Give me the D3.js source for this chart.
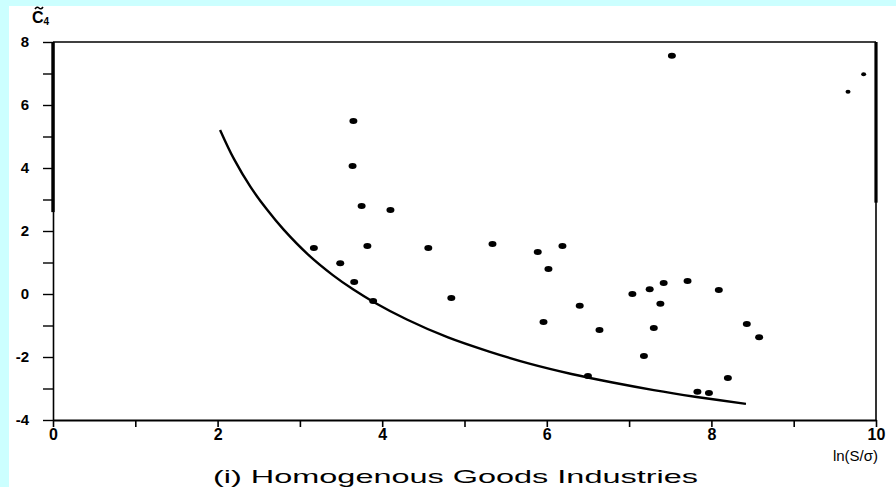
<!DOCTYPE html>
<html>
<head>
<meta charset="utf-8">
<script src="https://cdn.jsdelivr.net/npm/d3@7"></script>
<style>
  html, body { margin: 0; padding: 0; background: #ccffff; }
  svg { display: block; }
</style>
</head>
<body>
<svg id="chart" width="896" height="487"></svg>
<script>
// ---- data ----
const pointX = [3.65, 3.64, 3.75, 4.10, 3.17, 3.82, 4.56, 3.49, 3.66, 3.89, 4.84,
                5.34, 5.89, 6.19, 6.02, 6.40, 5.96, 6.64, 7.04, 7.25, 7.42, 7.38,
                7.30, 7.71, 8.09, 7.18, 8.43, 8.58, 6.50, 8.20, 7.83, 7.97, 7.52,
                9.85, 9.66];
const pointY = [5.49, 4.06, 2.79, 2.67, 1.46, 1.52, 1.46, 0.98, 0.38, -0.22, -0.13,
                1.59, 1.33, 1.52, 0.79, -0.37, -0.89, -1.14, 0.00, 0.15, 0.35, -0.31,
                -1.08, 0.41, 0.13, -1.97, -0.95, -1.37, -2.60, -2.67, -3.10, -3.14, 7.56,
                6.98, 6.42];
const curveX = [2.03, 2.20, 2.40, 2.60, 2.80, 3.10, 3.40, 3.65, 3.90, 4.30, 4.80,
                5.30, 5.80, 6.30, 6.80, 7.30, 7.80, 8.42];
const curveY = [5.21, 4.28, 3.40, 2.68, 2.05, 1.25, 0.60, 0.14, -0.26, -0.81, -1.38,
                -1.83, -2.22, -2.54, -2.81, -3.05, -3.26, -3.49];
const xTicks = [0, 1, 2, 3, 4, 5, 6, 7, 8, 9, 10];
const xTickLabels = ["0", "", "2", "", "4", "", "6", "", "8", "", "10"];
const yTicks = [-4, -3, -2, -1, 0, 1, 2, 3, 4, 5, 6, 7, 8];
const yTickLabels = ["-4", "", "-2", "", "0", "", "2", "", "4", "", "6", "", "8"];
const xAxisLabel = "ln(S/σ)";
const yAxisLabel = "C";
const yAxisSub = "4";
const caption = "(i) Homogenous Goods Industries";

// ---- drawing ----
const svg = d3.select("#chart");
svg.append("rect").attr("x", 9).attr("y", 6).attr("width", 887).attr("height", 481).attr("fill", "#ffffff");

const x = d3.scaleLinear().domain([0, 10]).range([53, 876]);
const y = d3.scaleLinear().domain([-4, 8]).range([420, 42]);

const font = "'Liberation Sans', Arial, sans-serif";

// frame: top and right
svg.append("line").attr("x1", x(0)).attr("x2", x(10)).attr("y1", y(8)).attr("y2", y(8))
  .attr("stroke", "#000").attr("stroke-width", 1.6);
svg.append("line").attr("x1", x(10)).attr("x2", x(10)).attr("y1", y(8)).attr("y2", y(-4))
  .attr("stroke", "#000").attr("stroke-width", 1.6);
svg.append("line").attr("x1", x(10)).attr("x2", x(10)).attr("y1", y(8)).attr("y2", y(2.9))
  .attr("stroke", "#000").attr("stroke-width", 3.2);

// y axis
const yAxis = d3.axisLeft(y).tickValues(yTicks)
  .tickFormat((d, i) => yTickLabels[i]).tickSize(10).tickSizeOuter(0).tickPadding(14);
const gy = svg.append("g").attr("transform", `translate(${x(0)},0)`).call(yAxis);
gy.select(".domain").attr("stroke-width", 1.6);
gy.selectAll(".tick line").attr("stroke-width", 1.4);
gy.selectAll(".tick text").attr("font-family", font).attr("font-weight", "bold")
  .attr("font-size", 15).attr("fill", "#000");
svg.append("line").attr("x1", x(0)).attr("x2", x(0)).attr("y1", y(8)).attr("y2", y(2.6))
  .attr("stroke", "#000").attr("stroke-width", 3.4);

// x axis
const xAxis = d3.axisBottom(x).tickValues(xTicks)
  .tickFormat((d, i) => xTickLabels[i]).tickSize(7).tickSizeOuter(0).tickPadding(2);
const gx = svg.append("g").attr("transform", `translate(0,${y(-4)})`).call(xAxis);
gx.select(".domain").attr("stroke-width", 1.8);
gx.selectAll(".tick line").attr("stroke-width", 1.6);
gx.selectAll(".tick text").attr("font-family", font).attr("font-weight", "bold")
  .attr("font-size", 16).attr("fill", "#000");

// fitted curve
const line = d3.line().x((d, i) => x(curveX[i])).y((d, i) => y(curveY[i])).curve(d3.curveCatmullRom);
svg.append("path").datum(curveX).attr("d", line)
  .attr("fill", "none").attr("stroke", "#000").attr("stroke-width", 2.4);

// points
svg.append("g").selectAll("ellipse").data(pointX).join("ellipse")
  .attr("cx", (d, i) => x(d)).attr("cy", (d, i) => y(pointY[i]))
  .attr("rx", (d, i) => i >= 33 ? 2.5 : 4).attr("ry", (d, i) => i >= 33 ? 2 : 3)
  .attr("fill", "#000");

// y axis label C~4 (tilde drawn as a path)
const yl = svg.append("text").attr("x", 32).attr("y", 23).attr("font-family", font)
  .attr("font-weight", "bold").attr("font-size", 16).attr("fill", "#000");
yl.append("tspan").text(yAxisLabel);
yl.append("tspan").attr("font-size", 10).attr("dy", 2).text(yAxisSub);
svg.append("path").attr("d", "M35,9 q2,-3 4,-1 t4,-1").attr("fill", "none")
  .attr("stroke", "#000").attr("stroke-width", 1.5);

// x axis label
svg.append("text").attr("x", 878).attr("y", 461).attr("text-anchor", "end")
  .attr("font-family", font).attr("font-size", 15).attr("fill", "#000").text(xAxisLabel);

// caption
svg.append("text").attr("x", 213).attr("y", 483)
  .attr("font-family", font).attr("font-size", 19).attr("fill", "#000")
  .attr("textLength", 485).attr("lengthAdjust", "spacingAndGlyphs").text(caption);
</script>
</body>
</html>
